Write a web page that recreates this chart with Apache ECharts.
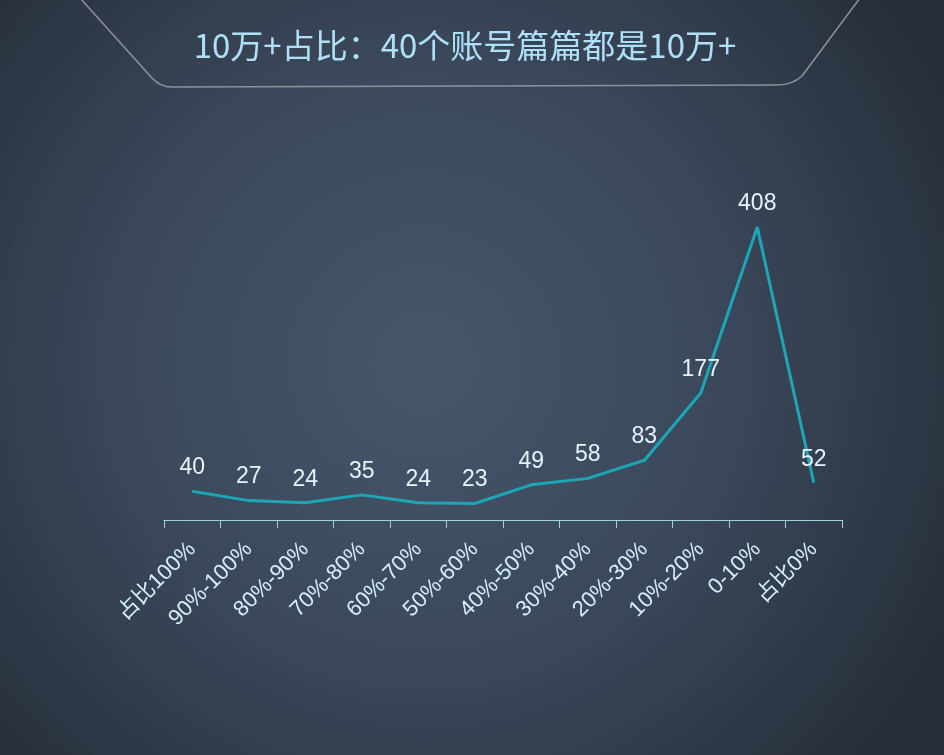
<!DOCTYPE html>
<html><head><meta charset="utf-8">
<script src="https://cdn.jsdelivr.net/npm/echarts@6/dist/echarts.min.js"></script>
<style>html,body{margin:0;padding:0;}#c{width:944px;height:755px;}</style>
</head><body><div id="c"></div>
<script>
var titleText = '10万+占比：40个账号篇篇都是10万+';
var categories = ['占比100%','90%-100%','80%-90%','70%-80%','60%-70%','50%-60%','40%-50%','30%-40%','20%-30%','10%-20%','0-10%','占比0%'];
var counts = [40,27,24,35,24,23,49,58,83,177,408,52];

var chart = echarts.init(document.getElementById('c'));
var bannerStyle = { fill: 'none', stroke: '#8e939b', lineWidth: 1.5 };
chart.setOption({
  backgroundColor: {
    type: 'radial', x: 0.45, y: 0.48, r: 0.8,
    colorStops: [{offset: 0, color: '#46566b'}, {offset: 0.5, color: '#3b485b'}, {offset: 1, color: '#262d38'}]
  },
  graphic: [
    { type: 'line', shape: { x1: 80, y1: -2, x2: 152, y2: 78 }, style: bannerStyle },
    { type: 'bezierCurve', shape: { x1: 152, y1: 78, cpx1: 160, cpy1: 87, x2: 172, y2: 87 }, style: bannerStyle },
    { type: 'line', shape: { x1: 172, y1: 87, x2: 778, y2: 85 }, style: bannerStyle },
    { type: 'bezierCurve', shape: { x1: 778, y1: 85, cpx1: 792, cpy1: 85, x2: 802, y2: 76 }, style: bannerStyle },
    { type: 'line', shape: { x1: 802, y1: 76, x2: 860, y2: -2 }, style: bannerStyle }
  ],
  title: {
    text: titleText, left: 460, top: 24, textAlign: 'center',
    textStyle: { color: '#aee0f7', fontSize: 33, fontWeight: 'normal', fontFamily: 'Noto Sans CJK SC' }
  },
  grid: { left: 164, right: 102, top: 197, bottom: 235 },
  xAxis: {
    type: 'category', data: categories, boundaryGap: true,
    axisLine: { lineStyle: { color: '#9ed3e3', width: 1 } },
    axisTick: { show: true, length: 8, lineStyle: { color: '#9ed3e3' } },
    axisLabel: { rotate: 45, interval: 0, color: '#d6f0fa', fontSize: 22, fontFamily: 'Liberation Sans, Noto Sans CJK SC', margin: 26 }
  },
  yAxis: { type: 'value', min: 0, max: 450, show: false, splitLine: { show: false } },
  series: [{
    type: 'line', data: counts, showSymbol: true, symbol: 'circle', symbolSize: 0,
    lineStyle: { color: '#1ba7b5', width: 3 },
    itemStyle: { color: '#1ba7b5' },
    label: { show: true, position: 'top', distance: 12, color: '#e6f4fb', fontSize: 23, fontFamily: 'Liberation Sans' }
  }]
});
</script></body></html>
